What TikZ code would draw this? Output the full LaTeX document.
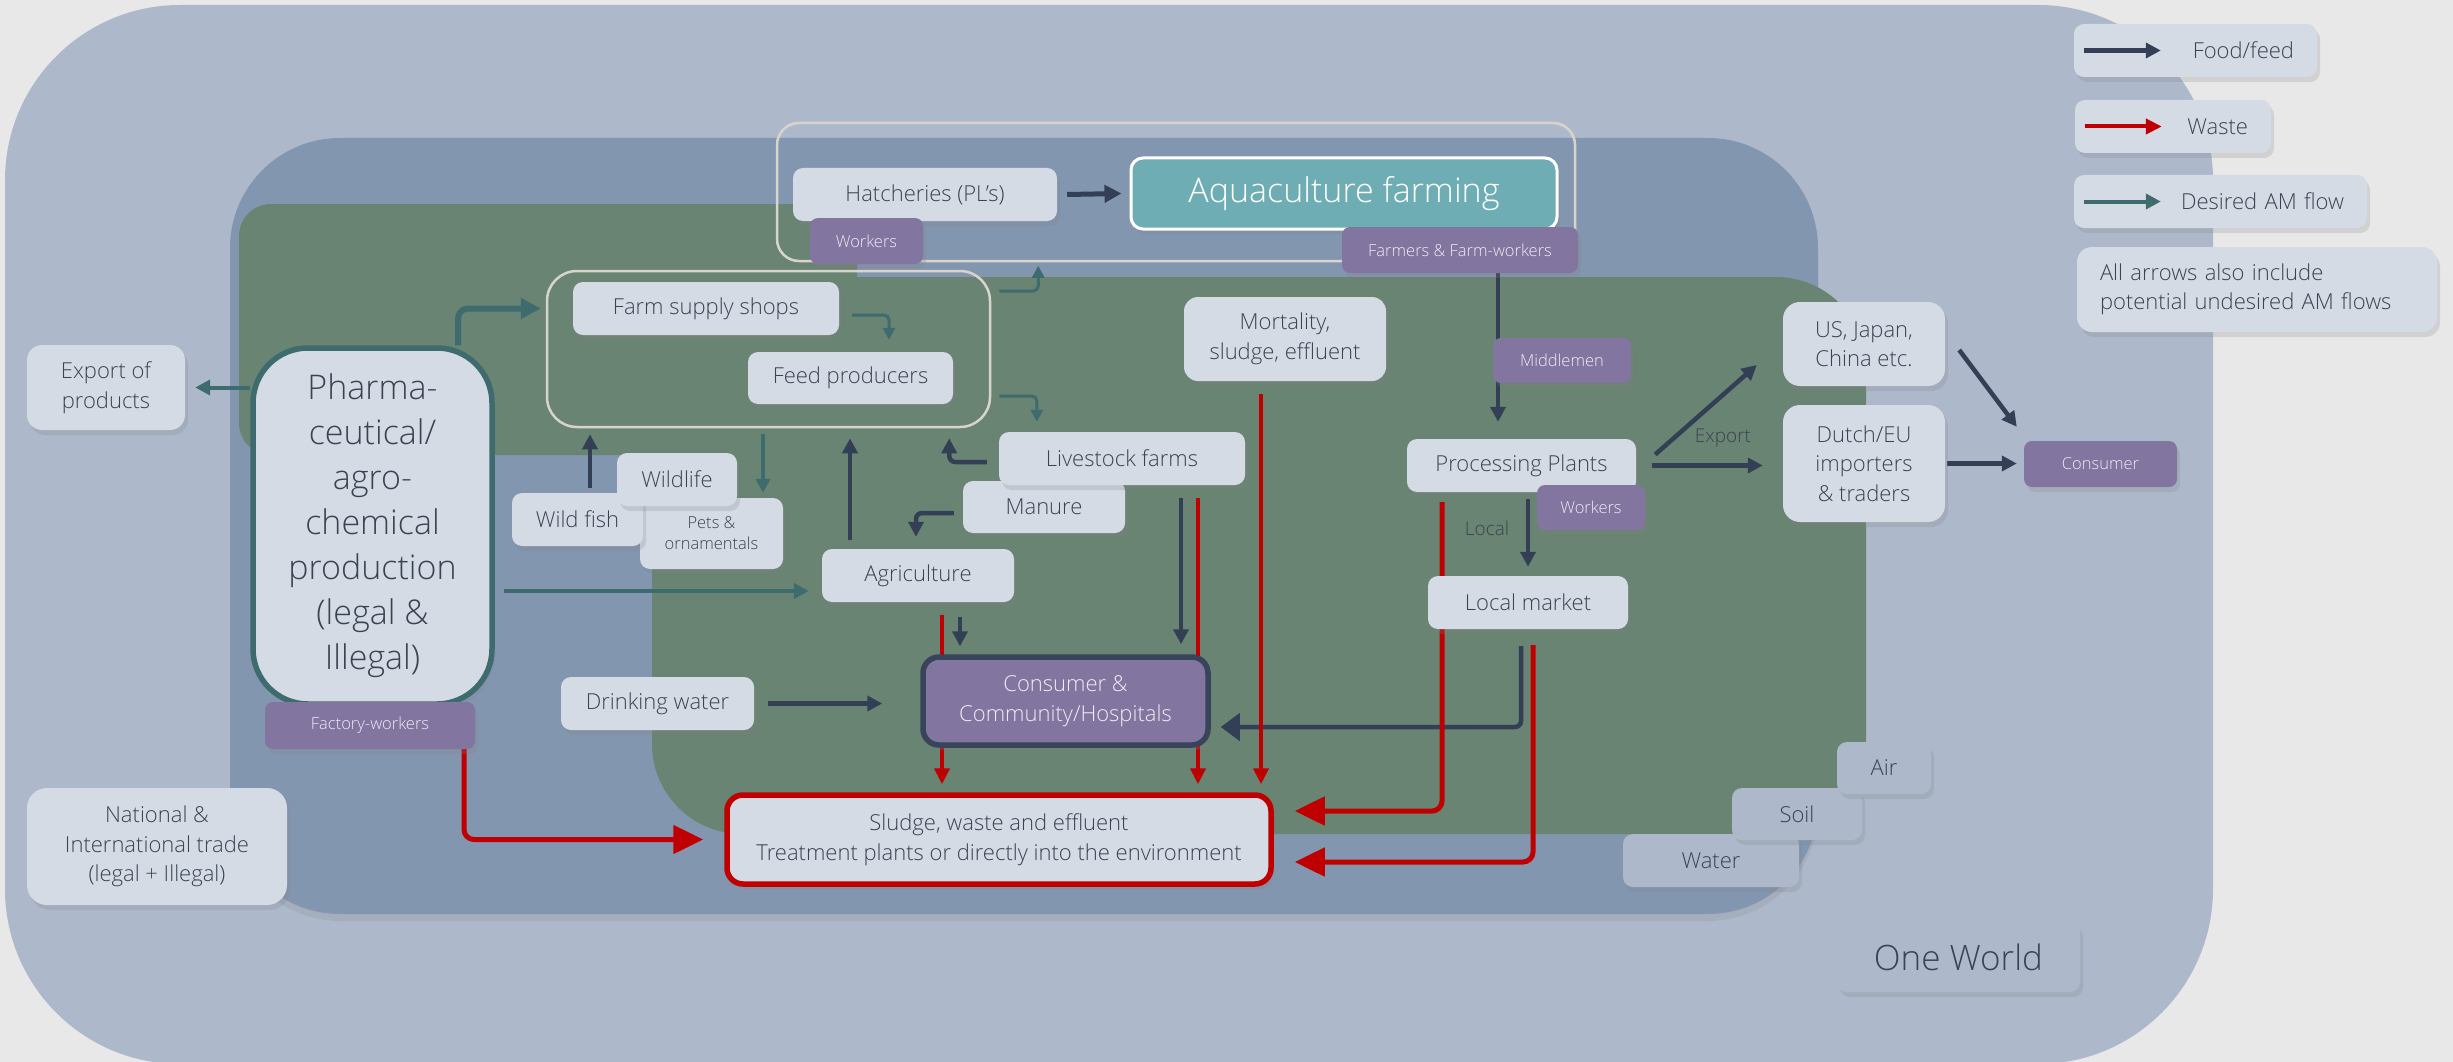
\documentclass[tikz,border=0pt]{standalone}
\usepackage{fontspec}
\setmainfont{Open Sans Light}
\usetikzlibrary{arrows.meta,shadows}

\definecolor{pagebg}{HTML}{E8E8E8}
\definecolor{worldbg}{HTML}{ADB9CB}
\definecolor{regionbg}{HTML}{8396B0}
\definecolor{farmbg}{HTML}{698473}
\definecolor{boxbg}{HTML}{D4DBE5}
\definecolor{boxtext}{HTML}{3A4352}
\definecolor{actorbg}{HTML}{8275A0}
\definecolor{actortext}{HTML}{EEECF4}
\definecolor{aquabg}{HTML}{6FADB4}
\definecolor{consborder}{HTML}{38445A}
\definecolor{foodcol}{HTML}{333F55}
\definecolor{wastecol}{HTML}{C00000}
\definecolor{amcol}{HTML}{3E6B6E}
\definecolor{framecol}{HTML}{D8D4CC}

\pgfdeclarelayer{regions}
\pgfdeclarelayer{edges}
\pgfdeclarelayer{top}
\pgfsetlayers{regions,edges,main,top}

\begin{document}
\begin{tikzpicture}[x=1pt, y=-1pt,
    every node/.style={inner sep=0pt, align=center},
    box/.style={fill=boxbg, text=boxtext, rounded corners=10pt, font=\fontsize{22}{29.5}\selectfont,
      drop shadow={shadow xshift=3pt, shadow yshift=-5pt, opacity=.22}},
    actor/.style={box, fill=actorbg, text=actortext, rounded corners=8pt, font=\fontsize{16.5}{20}\selectfont},
    groupframe/.style={draw=framecol, line width=2.5pt},
    food/.style={draw=foodcol, line width=4.5pt, -{Triangle[length=15pt,width=15pt]}},
    waste/.style={draw=wastecol, line width=4pt, -{Triangle[length=16pt,width=15pt]}},
    bigwaste/.style={waste, line width=5pt, rounded corners=10pt, -{Triangle[length=30pt,width=28pt]}},
    desired/.style={draw=amcol, line width=4pt, -{Triangle[length=15pt,width=15pt]}},
    desiredthin/.style={desired, line width=3pt, rounded corners=5pt, -{Triangle[length=12pt,width=12pt]}},
    flowlabel/.style={text=boxtext, font=\fontsize{19}{22}\selectfont}]
  \useasboundingbox (0,0) rectangle (2453,1062);

  % Regions
  \begin{pgfonlayer}{regions}
    \fill[pagebg] (0,0) rectangle (2453,1062);
    \fill[worldbg, rounded corners=175pt] (5,5) rectangle (2213,1064);
    \fill[regionbg, rounded corners=110pt, drop shadow={shadow xshift=0pt, shadow yshift=-7pt, opacity=.18}] (230,138) rectangle (1818,914);
    \fill[farmbg, rounded corners=90pt] (652,277) rectangle (1866,834);
    \fill[farmbg, rounded corners=32pt] (239,204) rectangle (857,455);
  \end{pgfonlayer}

  % Nodes
  \node[groupframe, rounded corners=22pt, minimum width=798pt, minimum height=138pt] (hatchframe) at (1176, 192) {};
  \node[groupframe, rounded corners=30pt, minimum width=443pt, minimum height=156pt] (supplyframe) at (768.5, 349) {};

  \node[box, minimum width=264pt, minimum height=53pt] (hatch) at (925, 194.5) {Hatcheries (PL’s)};
  \node[actor, minimum width=113pt, minimum height=46pt] (hworkers) at (866.5, 241) {Workers};
  \node[box, fill=aquabg, draw=white, line width=3pt, text=white, rounded corners=12pt, font=\fontsize{34}{40}\selectfont,
    minimum width=426pt, minimum height=71pt] (aqua) at (1344, 193.5) {Aquaculture farming};
  \node[actor, minimum width=236pt, minimum height=46pt] (farmers) at (1460, 250) {Farmers \& Farm-workers};
  \node[actor, minimum width=138pt, minimum height=45pt] (middle) at (1562, 360.5) {Middlemen};
  \node[box, rounded corners=14pt, minimum width=202pt, minimum height=84pt] (mort) at (1285, 339) {Mortality,\\sludge, effluent};
  \node[box, minimum width=229pt, minimum height=53pt] (proc) at (1521.5, 465.5) {Processing Plants};
  \node[actor, minimum width=108pt, minimum height=45pt] (pworkers) at (1591, 507.5) {Workers};
  \node[box, minimum width=200pt, minimum height=53pt] (local) at (1528, 602.5) {Local market};
  \node[box, rounded corners=17pt, minimum width=162pt, minimum height=84pt] (us) at (1864, 344) {US, Japan,\\China etc.};
  \node[box, rounded corners=17pt, minimum width=162pt, minimum height=117pt] (dutch) at (1864, 463.5) {Dutch/EU\\importers\\\& traders};
  \node[actor, minimum width=153pt, minimum height=46pt] (abroad) at (2100.5, 464) {Consumer};

  \node[box, minimum width=266pt, minimum height=53pt] (supply) at (706, 308.5) {Farm supply shops};
  \node[box, minimum width=205pt, minimum height=52pt] (feed) at (850.5, 378) {Feed producers};
  \node[box, minimum width=162pt, minimum height=52pt] (manure) at (1044, 507) {Manure};
  \node[box, minimum width=246pt, minimum height=53pt] (livestock) at (1122, 458.5) {Livestock farms};
  \node[box, font=\fontsize{16.5}{21}\selectfont, minimum width=143pt, minimum height=71pt] (pets) at (711.5, 533.5) {Pets \&\\ornamentals};
  \node[box, minimum width=131pt, minimum height=53pt] (wildfish) at (577.5, 519.5) {Wild fish};
  \node[box, minimum width=120pt, minimum height=53pt] (wildlife) at (677, 479.5) {Wildlife};
  \node[box, minimum width=192pt, minimum height=53pt] (agri) at (918, 575.5) {Agriculture};
  \node[box, minimum width=193pt, minimum height=53pt] (drink) at (657.5, 703.5) {Drinking water};
  \node[box, fill=actorbg, draw=consborder, line width=5.5pt, text=actortext, rounded corners=16pt,
    minimum width=285pt, minimum height=88pt] (consumer) at (1065.5, 701) {Consumer \&\\Community/Hospitals};
  \node[box, draw=wastecol, line width=5.5pt, rounded corners=16pt, minimum width=544pt, minimum height=89pt] (sludge) at (999, 839.5)
    {Sludge, waste and effluent\\Treatment plants or directly into the environment};

  \node[box, draw=amcol, line width=5.5pt, rounded corners=55pt, font=\fontsize{34}{45}\selectfont,
    minimum width=239pt, minimum height=356pt] (pharma) at (372.5, 526)
    {Pharma-\\ceutical/\\agro-\\chemical\\production\\(legal \&\\Illegal)};
  \node[actor, minimum width=210pt, minimum height=47pt] (fworkers) at (370, 725.5) {Factory-workers};
  \node[box, rounded corners=15pt, minimum width=158pt, minimum height=85pt] (export) at (106, 387.5) {Export of\\products};
  \node[box, rounded corners=20pt, minimum width=260pt, minimum height=117pt] (trade) at (157, 846.5) {National \&\\International trade\\(legal + Illegal)};

  \node[box, fill=worldbg, minimum width=176pt, minimum height=53pt] (water) at (1711, 860.5) {Water};
  \node[box, fill=worldbg, minimum width=130pt, minimum height=52pt] (soil) at (1797, 814) {Soil};
  \node[box, fill=worldbg, minimum width=94pt, minimum height=52pt] (air) at (1884, 768) {Air};
  \node[box, fill=worldbg, font=\fontsize{35}{40}\selectfont, minimum width=243pt, minimum height=70pt] (world) at (1958.5, 957) {One World};

  \node[flowlabel] (exportlbl) at (1723, 438) {Export};
  \node[flowlabel] (locallbl) at (1487, 528) {Local};

  % Legend
  \node[box, minimum width=243pt, minimum height=53pt, text width=197pt, align=right] (legfood) at (2195.5, 50.5) {Food/feed};
  \node[box, minimum width=196pt, minimum height=53pt, text width=150pt, align=right] (legwaste) at (2173, 126.5) {Waste};
  \node[box, minimum width=293pt, minimum height=53pt, text width=247pt, align=right] (legam) at (2220.5, 201.5) {Desired AM flow};
  \node[box, rounded corners=15pt, minimum width=360pt, minimum height=85pt, text width=314pt, align=left] (legnote) at (2257, 289.5)
    {All arrows also include\\potential undesired AM flows};

  % Edges
  \begin{pgfonlayer}{edges}
    % food / feed
    \draw[food, line width=5pt, -{Triangle[length=17pt,width=17pt]}] ([xshift=10pt]hatch.east) -- ([xshift=-8pt]aqua.west);
    \draw[food] ([xshift=38pt]farmers.south) -- ([xshift=-23.5pt, yshift=17pt]proc.north);
    \draw[food] ([yshift=-7pt]proc.south -| local.north) -- ([yshift=9pt]local.north);
    \draw[food] ([shift={(19pt,11pt)}]proc.east) -- ([shift={(-26pt,-21pt)}]us.west);
    \draw[food, line width=5pt] ([xshift=16pt]proc.east) -- ([xshift=-20pt]proc.east -| dutch.west);
    \draw[food] ([shift={(14pt,-6pt)}]us.east) -- ([shift={(-7pt,14pt)}]abroad.north west);
    \draw[food, line width=5pt] ([xshift=2pt]dutch.east) -- ([xshift=-7pt]dutch.east -| abroad.west);
    \draw[food, rounded corners=6pt, -{Triangle[length=19pt,width=27pt]}] ([shift={(-7pt,-17pt)}]local.south) |- ([shift={(10pt,-26pt)}]consumer.east);
    \draw[food] ([shift={(59pt,-13pt)}]livestock.south) -- ([shift={(59pt,10pt)}]livestock.south |- consumer.north);
    \draw[food] ([shift={(42pt,-15pt)}]agri.south) -- ([shift={(42pt,8pt)}]agri.south |- consumer.north);
    \draw[food] ([xshift=14pt]drink.east) -- ([xshift=-38pt]drink.east -| consumer.west);
    \draw[food, rounded corners=6pt] ([shift={(-9pt,-6pt)}]manure.west) -| ([shift={(-2pt,12pt)}]agri.north);
    \draw[food, rounded corners=6pt] ([shift={(-12pt,-3.5pt)}]livestock.west) -| ([shift={(-42pt,-10pt)}]supplyframe.south east);
    \draw[food] ([shift={(-68pt,9pt)}]agri.north) -- ([shift={(-68pt,-10pt)}]agri.north |- supplyframe.south);
    \draw[food] ([shift={(12.5pt,5pt)}]wildfish.north) -- ([shift={(12.5pt,-6pt)}]wildfish.north |- supplyframe.south);

    % desired AM flow
    \draw[desired] (export.east -| pharma.west) -- ([xshift=10pt]export.east);
    \draw[desired, line width=6pt, rounded corners=10pt, -{Triangle[length=20pt,width=20pt]}] ([xshift=85.5pt]pharma.north) |- ([xshift=-5pt]supplyframe.west |- supply.west);
    \draw[desired] ([xshift=9pt,yshift=-15.5pt]pharma.east |- agri.west) -- ([xshift=-13pt,yshift=-15.5pt]agri.west);
    \draw[desiredthin] ([shift={(13pt,-6.5pt)}]supply.east) -| ([shift={(38.5pt,12pt)}]feed.north);
    \draw[desiredthin] ([shift={(8pt,58pt)}]supplyframe.east) -| ([shift={(47pt,4pt)}]supplyframe.north east);
    \draw[desiredthin] ([shift={(8pt,-47pt)}]supplyframe.east) -| ([shift={(38pt,10pt)}]livestock.north west);
    \draw[desired, line width=3.5pt, -{Triangle[length=14pt,width=14pt]}] ([xshift=51.5pt,yshift=-6pt]pets.north |- supplyframe.south) -- ([xshift=51.5pt,yshift=5pt]pets.north);

    % waste
    \draw[bigwaste] ([xshift=94pt]fworkers.south) |- ([xshift=-21pt]sludge.west);
    \draw[bigwaste] ([shift={(-79.5pt,-10pt)}]proc.south) |- ([shift={(21pt,28.5pt)}]sludge.east);
    \draw[bigwaste] ([shift={(5pt,-16pt)}]local.south) |- ([shift={(21pt,-22.5pt)}]sludge.east);
    \draw[waste] ([shift={(-24pt,-13pt)}]mort.south) -- ([xshift=-24pt,yshift=8pt]mort.south |- sludge.north);
    \draw[waste] ([shift={(24pt,-13pt)}]agri.south) -- ([xshift=24pt,yshift=8pt]agri.south |- sludge.north);
    \draw[waste] ([shift={(76pt,-13pt)}]livestock.south) -- ([xshift=76pt,yshift=8pt]livestock.south |- sludge.north);
  \end{pgfonlayer}

  % Legend arrows
  \begin{pgfonlayer}{top}
    \draw[food] ([xshift=10pt]legfood.west) -- ++(77,0);
    \draw[waste] ([xshift=10pt]legwaste.west) -- ++(77,0);
    \draw[desired] ([xshift=10pt]legam.west) -- ++(77,0);
  \end{pgfonlayer}
\end{tikzpicture}
\end{document}
